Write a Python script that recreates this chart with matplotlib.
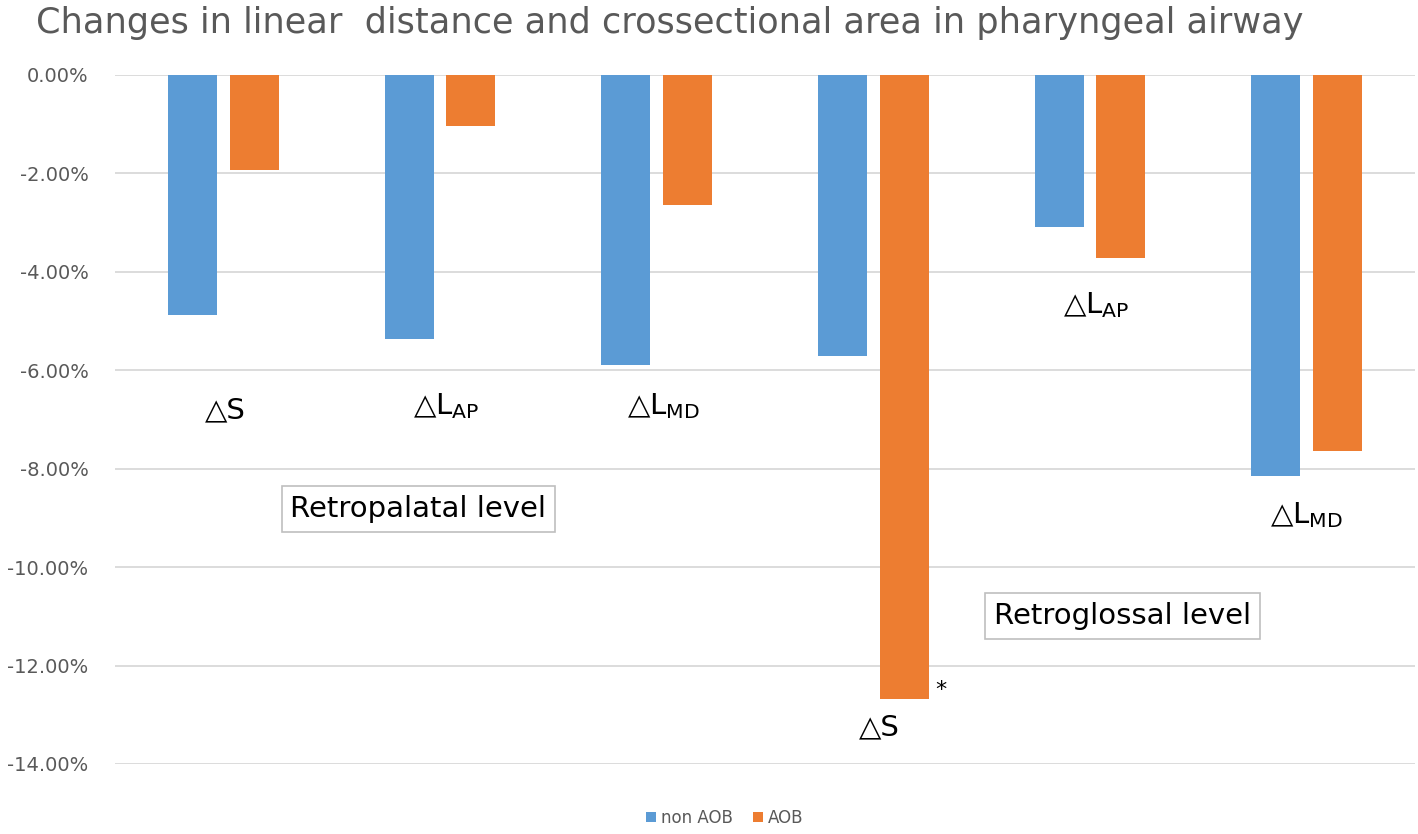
import matplotlib
matplotlib.use("Agg")
import matplotlib.pyplot as plt
import numpy as np
from matplotlib.ticker import FuncFormatter

groups = ["ΔS RP", "ΔLAP RP", "ΔLMD RP", "ΔS RG", "ΔLAP RG", "ΔLMD RG"]
non_aob = [-4.87, -5.37, -5.89, -5.71, -3.09, -8.15]
aob = [-1.93, -1.04, -2.64, -12.68, -3.72, -7.64]
series_names = ["non AOB", "AOB"]
yticks = [0, -2, -4, -6, -8, -10, -12, -14]

# annotation labels (text, x, y)
labels = [
    (r"△S", 0.01, -6.81),
    (r"△L$\mathregular{_{AP}}$", 1.03, -6.72),
    (r"△L$\mathregular{_{MD}}$", 2.03, -6.72),
    (r"△S", 3.03, -13.25),
    (r"△L$\mathregular{_{AP}}$", 4.03, -4.68),
    (r"△L$\mathregular{_{MD}}$", 5.0, -8.95),
]

plt.rcParams['font.family'] = ['DejaVu Sans']
fig = plt.figure(figsize=(14.18, 8.34), dpi=100)
ax = fig.add_axes([115/1418, 1-764/834, 1300/1418, (764-75)/834])

x = np.arange(len(groups))
w = 0.226
off = 0.142
blue = "#5B9BD5"
orange = "#ED7D31"
ax.bar(x - off, non_aob, w, color=blue, label=series_names[0], zorder=3)
ax.bar(x + off, aob, w, color=orange, label=series_names[1], zorder=3)

ax.set_xlim(-0.5, len(groups) - 0.5)
ax.set_ylim(-14, 0)
ax.set_yticks(yticks)
ax.yaxis.set_major_formatter(FuncFormatter(lambda v, p: f"{v:.2f}%" if v != 0 else "0.00%"))
ax.tick_params(axis='y', length=0, labelsize=14, labelcolor="#595959", pad=19)
ax.set_xticks([])
for s in ax.spines.values():
    s.set_visible(False)
ax.grid(axis='y', color="#d9d9d9", linewidth=1.3, zorder=0)
ax.set_axisbelow(True)

for t, xx, yy in labels:
    ax.text(xx, yy, t, ha='center', va='center', fontsize=21, color="black", zorder=5)

ax.text(3.31, -12.5, "*", ha='center', va='center', fontsize=16, color="black")

box = dict(boxstyle="square,pad=0.3", facecolor="white", edgecolor="#bfbfbf", linewidth=1.2)
ax.text(0.90, -8.82, "Retropalatal level", ha='center', va='center', fontsize=21,
        color="black", bbox=box, zorder=5)
ax.text(4.15, -10.99, "Retroglossal level", ha='center', va='center', fontsize=21,
        color="black", bbox=box, zorder=5)

fig.text(670/1418, 1-23/834, "Changes in linear  distance and crossectional area in pharyngeal airway",
         ha='center', va='center', fontsize=25.3, color="#595959")

leg = fig.legend(loc='center', bbox_to_anchor=(725/1418, 1-818/834), ncol=2, frameon=False,
                 fontsize=12, handlelength=0.6, handleheight=0.6, handletextpad=0.3,
                 columnspacing=1.2, labelcolor="#595959")

fig.savefig("out.png", dpi=100)
